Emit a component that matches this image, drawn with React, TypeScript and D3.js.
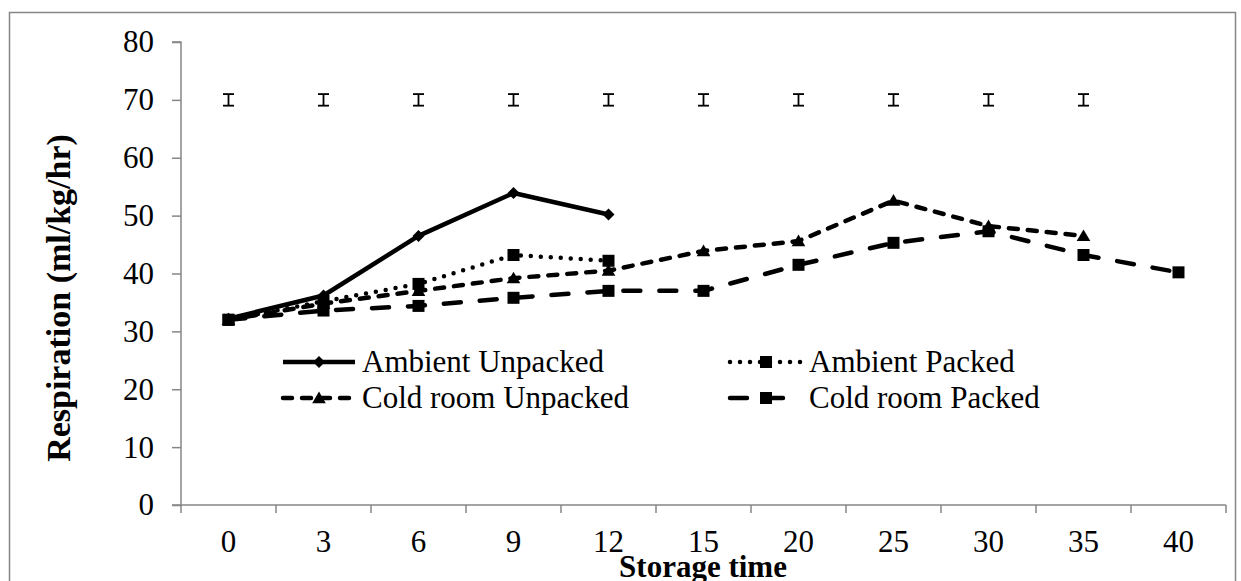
import { useRef, useEffect } from "react";
import * as d3 from "d3";

const categories = ["0", "3", "6", "9", "12", "15", "20", "25", "30", "35", "40"];
const ambientUnpacked = [32.2, 36.2, 46.5, 53.9, 50.2, null, null, null, null, null, null];
const ambientPacked = [32.0, 35.2, 38.2, 43.2, 42.2, null, null, null, null, null, null];
const coldUnpacked = [32.0, 34.8, 37.0, 39.2, 40.5, 43.9, 45.6, 52.6, 48.2, 46.5, null];
const coldPacked = [32.0, 33.6, 34.4, 35.8, 37.0, 37.0, 41.5, 45.3, 47.3, 43.2, 40.2];
// LSD bars drawn at 70 for every day except the last
const lsdLevel = [70, 70, 70, 70, 70, 70, 70, 70, 70, 70, null];
const lsdHalf = 1;
const yTicks = [0, 10, 20, 30, 40, 50, 60, 70, 80];

const width = 1241;
const height = 581;
const font = "'Liberation Serif', 'Times New Roman', serif";

const diamond = (s: number) => `M0,${-s}L${s},0L0,${s}L${-s},0Z`;
const square = (s: number) => `M${-s},${-s}H${s}V${s}H${-s}Z`;
const triangle = (s: number) => `M0,${-s}L${s * 1.05},${s * 0.8}H${-s * 1.05}Z`;

const series = [
  { name: "Ambient Unpacked", values: ambientUnpacked, dash: null, marker: diamond(6) },
  { name: "Ambient Packed", values: ambientPacked, dash: "0,10", marker: square(6) },
  { name: "Cold room Unpacked", values: coldUnpacked, dash: "9,10", marker: triangle(6.5) },
  { name: "Cold room Packed", values: coldPacked, dash: "17,19", marker: square(6) },
];

export default function App() {
  const root = useRef<SVGSVGElement>(null);

  useEffect(() => {
    const svg = d3.select(root.current);
    svg.selectAll("*").remove();

    const x = d3.scaleBand(categories, [181, 1226]);
    const y = d3.scaleLinear([0, 80], [505, 42]);
    const cx = (i: number) => (x(categories[i]) as number) + x.bandwidth() / 2;
    const gray = "#868686";

    // outer frame
    svg.append("rect")
      .attr("x", 9.5).attr("y", 12.5)
      .attr("width", 1226).attr("height", 600)
      .attr("fill", "none").attr("stroke", gray).attr("stroke-width", 1.5);

    // y axis
    const ya = svg.append("g").attr("transform", "translate(181,0)")
      .call(d3.axisLeft(y).tickValues(yTicks).tickSize(9).tickPadding(18));
    ya.selectAll("path, line").attr("stroke", gray).attr("stroke-width", 1.5);
    ya.selectAll("text").attr("font-family", font).attr("font-size", 31).attr("fill", "#000");
    ya.select(".domain").attr("d", `M-9,${y(80)}H0V${y(0)}H-9`);

    // x axis, ticks on the category boundaries
    const xa = svg.append("g").attr("transform", "translate(0,505)");
    xa.append("line").attr("x1", 181).attr("x2", 1226)
      .attr("stroke", gray).attr("stroke-width", 1.5);
    const edges = categories.map(c => x(c) as number).concat([x.range()[1]]);
    xa.selectAll("line.tick").data(edges).enter().append("line")
      .attr("class", "tick")
      .attr("x1", d => d).attr("x2", d => d).attr("y1", 0).attr("y2", 8)
      .attr("stroke", gray).attr("stroke-width", 1.5);
    xa.selectAll("text").data(categories).enter().append("text")
      .attr("x", (d, i) => cx(i)).attr("y", 47)
      .attr("text-anchor", "middle")
      .attr("font-family", font).attr("font-size", 31)
      .text(d => d);

    // axis titles
    svg.append("text")
      .attr("transform", "translate(70,298) rotate(-90)")
      .attr("text-anchor", "middle")
      .attr("font-family", font).attr("font-size", 34).attr("font-weight", "bold")
      .text("Respiration (ml/kg/hr)");
    svg.append("text")
      .attr("x", 703).attr("y", 577)
      .attr("text-anchor", "middle")
      .attr("font-family", font).attr("font-size", 31).attr("font-weight", "bold")
      .text("Storage time");

    // LSD error bars
    const bars = svg.append("g").attr("stroke", "#000").attr("stroke-width", 1.8);
    lsdLevel.forEach((v, i) => {
      if (v == null) return;
      const px = cx(i);
      bars.append("line").attr("x1", px).attr("x2", px).attr("y1", y(v + lsdHalf)).attr("y2", y(v - lsdHalf));
      bars.append("line").attr("x1", px - 5.5).attr("x2", px + 5.5).attr("y1", y(v + lsdHalf)).attr("y2", y(v + lsdHalf));
      bars.append("line").attr("x1", px - 5.5).attr("x2", px + 5.5).attr("y1", y(v - lsdHalf)).attr("y2", y(v - lsdHalf));
    });

    // series
    series.forEach(s => {
      const pts = s.values.map((v, i) => ({ v, i })).filter(p => p.v != null);
      const line = d3.line<{ v: number | null; i: number }>()
        .x(p => cx(p.i)).y(p => y(p.v as number));
      const g = svg.append("g");
      g.append("path")
        .attr("d", line(pts))
        .attr("fill", "none").attr("stroke", "#000").attr("stroke-width", 4.5)
        .attr("stroke-linecap", s.dash ? "round" : "butt")
        .attr("stroke-linejoin", "round")
        .attr("stroke-dasharray", s.dash);
      g.selectAll("path.m").data(pts).enter().append("path")
        .attr("class", "m")
        .attr("transform", p => `translate(${cx(p.i)},${y(p.v as number)})`)
        .attr("d", s.marker).attr("fill", "#000");
    });

    // legend
    const legendPos = [
      { x: 283, y: 362 },
      { x: 730, y: 362 },
      { x: 283, y: 398 },
      { x: 730, y: 398 },
    ];
    series.forEach((s, k) => {
      const p = legendPos[k];
      const g = svg.append("g").attr("transform", `translate(${p.x},${p.y})`);
      g.append("line").attr("x1", 0).attr("x2", 72).attr("y1", 0).attr("y2", 0)
        .attr("stroke", "#000").attr("stroke-width", 4.5)
        .attr("stroke-linecap", s.dash ? "round" : "butt")
        .attr("stroke-dasharray", s.dash);
      g.append("path").attr("transform", "translate(36,0)").attr("d", s.marker).attr("fill", "#000");
      g.append("text").attr("x", 79).attr("y", 0).attr("dy", "0.33em")
        .attr("font-family", font).attr("font-size", 31)
        .text(s.name);
    });
  }, []);

  return (
    <svg ref={root} width={width} height={height}
      style={{ position: "absolute", left: 0, top: 0, background: "#fff" }} />
  );
}
